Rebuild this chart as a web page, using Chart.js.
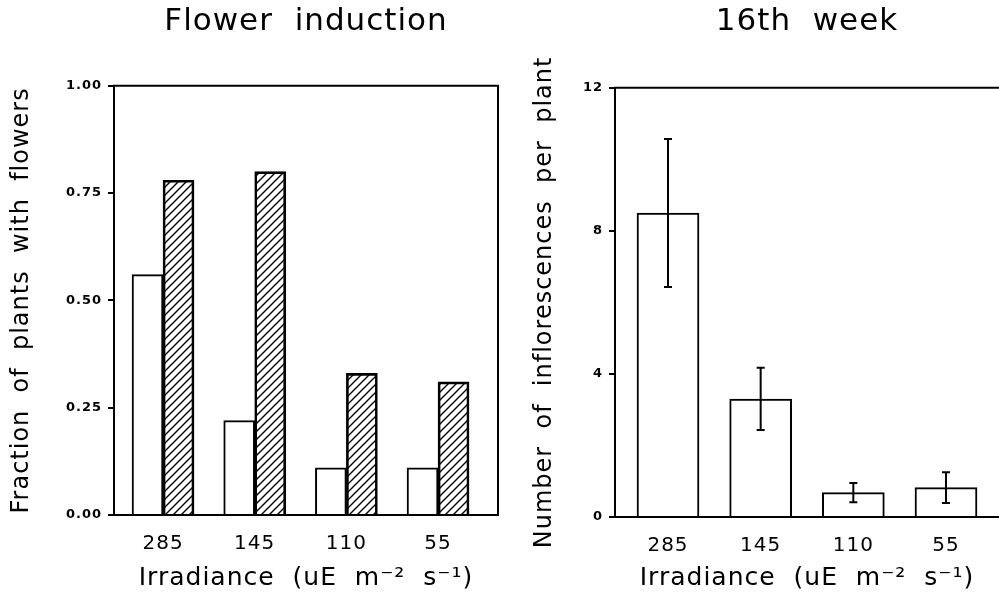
<!DOCTYPE html>
<html>
<head>
<meta charset="utf-8">
<script src="https://cdn.jsdelivr.net/npm/chart.js@4"></script>
<style>
    html, body { margin: 0; padding: 0; background: #fff; }
    #left { position: absolute; left: 0; top: 0; }
    #right { position: absolute; left: 520px; top: 0; }
</style>
</head>
<body>
<canvas id="left" width="520" height="595"></canvas>
<canvas id="right" width="479" height="595"></canvas>
<script>
// Irradiance groups (uE m-2 s-1)
const irradiance = ['285', '145', '110', '55'];

// Left panel: fraction of plants with flowers
const fractionOpen = [0.56, 0.22, 0.11, 0.11];
const fractionHatched = [0.78, 0.80, 0.33, 0.31];
const fractionTicks = [0, 0.25, 0.5, 0.75, 1];
const fractionTickLabels = ['0.00', '0.25', '0.50', '0.75', '1.00'];

// Right panel: inflorescences per plant, 16th week
const inflorescences = [8.5, 3.3, 0.68, 0.82];
const inflorescenceErr = [2.07, 0.87, 0.27, 0.43];
const countTicks = [0, 4, 8, 12];
const countTickLabels = ['0', '4', '8', '12'];

const FONT = '"DejaVu Sans", sans-serif';

// Slightly wider letter spacing, like the old plotter font
const spacing = {
    id: 'spacing',
    beforeUpdate(chart) { chart.ctx.letterSpacing = '1px'; },
    beforeDraw(chart) { chart.ctx.letterSpacing = '1px'; }
};

// Top (and optionally right) edge of the plot box
const frame = {
    id: 'frame',
    afterDatasetsDraw(chart, args, opts) {
        const { ctx, chartArea: a } = chart;
        ctx.save();
        ctx.strokeStyle = '#000';
        ctx.lineWidth = 2;
        ctx.beginPath();
        ctx.moveTo(a.left - 1, a.top);
        ctx.lineTo(a.right, a.top);
        if (opts.right) {
            ctx.lineTo(a.right, a.bottom);
        }
        ctx.stroke();
        ctx.restore();
    }
};

// Error bars for the right panel
const errorBars = {
    id: 'errorBars',
    afterDatasetsDraw(chart, args, opts) {
        if (!opts.values) return;
        const { ctx, scales: { x, y } } = chart;
        ctx.save();
        ctx.strokeStyle = '#000';
        ctx.lineWidth = 2;
        opts.means.forEach((v, i) => {
            const px = x.getPixelForValue(i);
            const top = y.getPixelForValue(v + opts.values[i]);
            const bot = y.getPixelForValue(v - opts.values[i]);
            ctx.beginPath();
            ctx.moveTo(px, top);
            ctx.lineTo(px, bot);
            ctx.moveTo(px - 4, top);
            ctx.lineTo(px + 4, top);
            ctx.moveTo(px - 4, bot);
            ctx.lineTo(px + 4, bot);
            ctx.stroke();
        });
        ctx.restore();
    }
};

// Diagonal hatch fill
function makeHatch() {
    const c = document.createElement('canvas');
    c.width = 8;
    c.height = 8;
    const g = c.getContext('2d');
    g.strokeStyle = '#000';
    g.lineWidth = 1.4;
    g.beginPath();
    g.moveTo(0, 8); g.lineTo(8, 0);
    g.moveTo(-1, 1); g.lineTo(1, -1);
    g.moveTo(7, 9); g.lineTo(9, 7);
    g.stroke();
    return g.createPattern(c, 'repeat');
}

// Shared options for one panel
function panelOptions(p) {
    return {
        responsive: false,
        animation: false,
        devicePixelRatio: 1,
        layout: { padding: { right: p.padRight } },
        scales: {
            x: {
                type: 'linear',
                offset: false,
                min: p.xMin,
                max: p.xMax,
                afterFit: s => { s.height = p.xHeight; },
                afterBuildTicks: s => { s.ticks = irradiance.map((_, i) => ({ value: i })); },
                grid: { display: false },
                border: { display: true, color: '#000', width: 2 },
                ticks: {
                    color: '#000',
                    padding: 9,
                    font: { family: FONT, size: 20 },
                    callback: v => irradiance[v]
                },
                title: {
                    display: true,
                    text: 'Irradiance  (uE  m\u207B\u00B2  s\u207B\u00B9)',
                    color: '#000',
                    font: { family: FONT, size: 25 },
                    padding: { top: 0, bottom: 2 }
                }
            },
            y: {
                min: p.yMin,
                max: p.yMax,
                afterFit: s => { s.width = p.yWidth; },
                afterBuildTicks: s => { s.ticks = p.yTicks.map(v => ({ value: v })); },
                grid: {
                    drawOnChartArea: false,
                    drawTicks: true,
                    tickLength: 6,
                    color: '#000',
                    lineWidth: 2
                },
                border: { display: true, color: '#000', width: 2 },
                ticks: {
                    color: '#000',
                    padding: 6,
                    font: { family: FONT, size: 13, weight: 'bold' },
                    callback: v => p.yLabels[p.yTicks.indexOf(v)]
                },
                title: {
                    display: true,
                    text: p.yTitle,
                    color: '#000',
                    font: { family: FONT, size: 24 },
                    padding: { top: p.yTitlePad, bottom: 0 }
                }
            }
        },
        plugins: {
            legend: { display: false },
            tooltip: { enabled: false },
            title: {
                display: true,
                fullSize: false,
                text: p.title,
                color: '#000',
                font: { family: FONT, size: 31, weight: 'normal' },
                padding: { top: 3, bottom: p.titleGap }
            },
            frame: { right: p.frameRight },
            errorBars: p.errorBars || {}
        }
    };
}

const leftChart = new Chart(document.getElementById('left'), {
    type: 'bar',
    data: {
        datasets: [
            {
                data: fractionOpen.map((v, i) => ({ x: i, y: v })),
                backgroundColor: '#fff',
                borderColor: '#000',
                borderWidth: 2,
                barThickness: 31
            },
            {
                data: fractionHatched.map((v, i) => ({ x: i, y: v })),
                backgroundColor: makeHatch(),
                borderColor: '#000',
                borderWidth: 2,
                barThickness: 31
            }
        ]
    },
    options: panelOptions({
        title: 'Flower  induction',
        yTitle: 'Fraction  of  plants  with  flowers',
        xMin: -0.535, xMax: 3.654,
        yMin: 0, yMax: 1,
        yTicks: fractionTicks, yLabels: fractionTickLabels,
        yWidth: 114, xHeight: 80, padRight: 22,
        yTitlePad: 7, titleGap: 45.6, frameRight: true
    }),
    plugins: [spacing, frame, errorBars]
});

const rightChart = new Chart(document.getElementById('right'), {
    type: 'bar',
    data: {
        datasets: [{
            data: inflorescences.map((v, i) => ({ x: i, y: v })),
            backgroundColor: '#fff',
            borderColor: '#000',
            borderWidth: 2,
            barThickness: 62
        }]
    },
    options: panelOptions({
        title: '16th  week',
        yTitle: 'Number  of  inflorescences  per  plant',
        xMin: -0.572, xMax: 3.572,
        yMin: 0, yMax: 12,
        yTicks: countTicks, yLabels: countTickLabels,
        yWidth: 95, xHeight: 78, padRight: 0,
        yTitlePad: 10, titleGap: 47.6, frameRight: false,
        errorBars: { means: inflorescences, values: inflorescenceErr }
    }),
    plugins: [spacing, frame, errorBars]
});
</script>
</body>
</html>
